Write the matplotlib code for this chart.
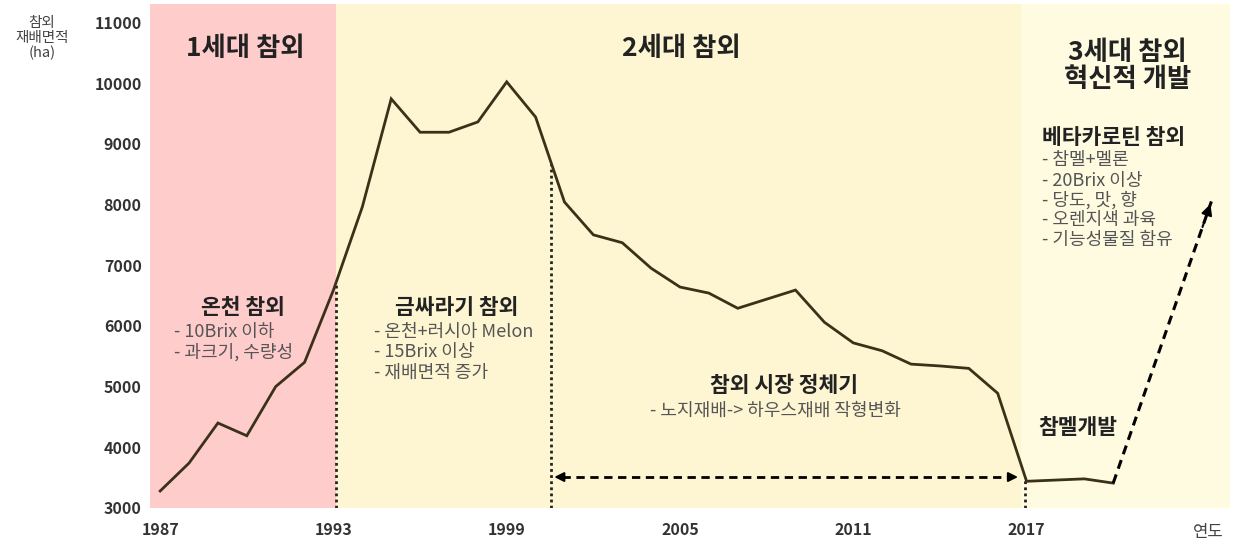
import matplotlib.pyplot as plt
import numpy as np

plt.rcParams['font.family'] = ['Noto Sans CJK KR', 'DejaVu Sans']

# 참외 재배면적 (ha), 1987-2020
years = list(range(1987, 2021))
area = [3280, 3740, 4400, 4190, 5000, 5400, 6590, 7960, 9740, 9190,
        9190, 9360, 10020, 9440, 8040, 7500, 7370, 6950, 6640, 6540,
        6290, 6440, 6590, 6060, 5720, 5590, 5370, 5340, 5300, 4890,
        3440, 3460, 3480, 3410]

# 시대 구분
era_bounds = [1986.65, 1993.1, 2016.8, 2024.05]
era_colors = ['#FFCCCC', '#FEF6D2', '#FEFBE1']
stagnation_start = 2000.55
stagnation_y = 3510
future_target = (2023.4, 8050)

x_ticks = [1987, 1993, 1999, 2005, 2011, 2017]
y_ticks = list(range(3000, 11001, 1000))

fig = plt.figure(figsize=(12.33, 5.45), dpi=100)
ax = fig.add_axes([0.1217, 0.0679, 0.876, 0.9248])

for i in range(3):
    ax.axvspan(era_bounds[i], era_bounds[i + 1], color=era_colors[i], lw=0, zorder=0)

line_color = '#3b3119'
ax.plot(years, area, color=line_color, lw=2.0, zorder=3, solid_joinstyle='miter')

# 경계 점선
for xv in [1993.1, stagnation_start, 2016.95]:
    top = np.interp(xv, years, area)
    ax.plot([xv, xv], [3000, top], color='#222222', lw=2.0, ls=(0, (1, 1.2)), zorder=2)

# 정체기 양방향 화살표
ax.plot([stagnation_start + 0.35, 2016.8 - 0.35], [stagnation_y, stagnation_y],
        color='black', lw=2.0, ls=(0, (3, 2)), zorder=4)
for x0, x1 in [(stagnation_start + 0.5, stagnation_start), (2016.8 - 0.5, 2016.8)]:
    ax.annotate('', xy=(x1, stagnation_y), xytext=(x0, stagnation_y),
                arrowprops=dict(arrowstyle='-|>', color='black', lw=1.5, mutation_scale=14),
                zorder=4)

# 향후 전망 화살표
x_start, y_start = years[-1], area[-1]
fx, fy = future_target
ax.plot([x_start, fx], [y_start, fy], color='black', lw=2.2, ls=(0, (3, 2)), zorder=4)
ax.annotate('', xy=(fx, fy), xytext=(x_start + (fx - x_start) * 0.9, y_start + (fy - y_start) * 0.9),
            arrowprops=dict(arrowstyle='-|>', color='black', lw=1.5, mutation_scale=16),
            zorder=4)

head = '#222222'
sub = '#555555'
big, mid, small = 19, 15.5, 13

ax.text(1989.94, 10576, '1세대 참외', ha='center', va='center', fontsize=big,
        fontweight='bold', color=head)
ax.text(2005.06, 10576, '2세대 참외', ha='center', va='center', fontsize=big,
        fontweight='bold', color=head)
ax.text(2020.5, 10280, '3세대 참외\n혁신적 개발', ha='center', va='center', fontsize=big,
        fontweight='bold', color=head, linespacing=1.0)

ax.text(1989.87, 6310, '온천 참외', ha='center', va='center', fontsize=mid,
        fontweight='bold', color=head)
for y, s in zip([5899, 5570], ['- 10Brix 이하', '- 과크기, 수량성']):
    ax.text(1987.48, y, s, ha='left', va='center', fontsize=small, color=sub)

ax.text(1997.28, 6310, '금싸라기 참외', ha='center', va='center', fontsize=mid,
        fontweight='bold', color=head)
for y, s in zip([5899, 5570, 5224], ['- 온천+러시아 Melon', '- 15Brix 이상', '- 재배면적 증가']):
    ax.text(1994.4, y, s, ha='left', va='center', fontsize=small, color=sub)

ax.text(2008.6, 5010, '참외 시장 정체기', ha='center', va='center', fontsize=mid,
        fontweight='bold', color=head)
ax.text(2008.3, 4597, '- 노지재배-> 하우스재배 작형변화', ha='center', va='center',
        fontsize=small, color=sub)

ax.text(2018.77, 4334, '참멜개발', ha='center', va='center', fontsize=mid,
        fontweight='bold', color=head)

ax.text(2017.55, 9110, '베타카로틴 참외', ha='left', va='center', fontsize=mid,
        fontweight='bold', color=head)
beta = ['- 참멜+멜론', '- 20Brix 이상', '- 당도, 맛, 향', '- 오렌지색 과육', '- 기능성물질 함유']
for y, s in zip([8731, 8390, 8070, 7743, 7414], beta):
    ax.text(2017.55, y, s, ha='left', va='center', fontsize=small, color=sub)

ax.set_xlim(era_bounds[0], era_bounds[-1])
ax.set_ylim(3000, 11303)
ax.set_xticks(x_ticks)
ax.set_yticks(y_ticks)
ax.tick_params(length=0, labelsize=11.5, labelcolor='#333333')
ax.tick_params(axis='x', pad=10)
ax.tick_params(axis='y', pad=6)
for lab in ax.get_xticklabels() + ax.get_yticklabels():
    lab.set_fontweight('bold')
for s in ax.spines.values():
    s.set_visible(False)

fig.text(42 / 1233, 1 - 38 / 545, '참외\n재배면적\n(ha)', ha='center', va='center',
         fontsize=10.5, color='#444444', linespacing=1.1)
fig.text(1208 / 1233, 1 - 532 / 545, '연도', ha='center', va='center',
         fontsize=12, color='#444444')

fig.savefig('out.png', dpi=100)
